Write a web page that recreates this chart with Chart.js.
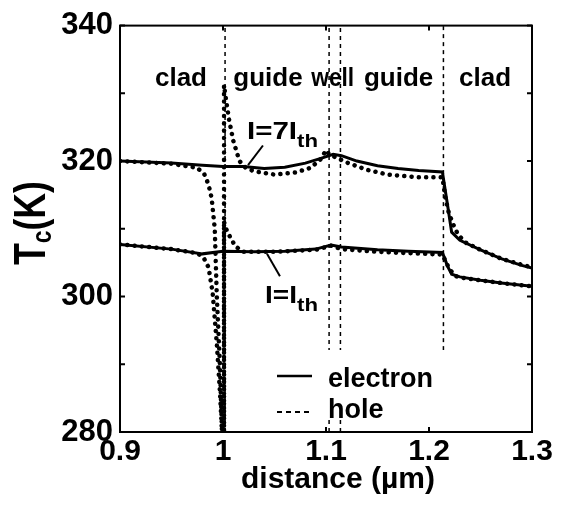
<!DOCTYPE html>
<html>
<head>
<meta charset="utf-8">
<script src="https://cdn.jsdelivr.net/npm/chart.js@4.4.1/dist/chart.umd.min.js"></script>
<style>
  html, body { margin: 0; padding: 0; background: #fff; }
  #wrap { width: 563px; height: 510px; }
</style>
</head>
<body>
<div id="wrap"><canvas id="c" width="563" height="510"></canvas></div>
<script>
// Carrier temperature profiles across the laser structure (distance in µm, temperature in K)
const elec7X = [0.9, 0.95, 0.98, 1.0, 1.02, 1.04, 1.06, 1.08, 1.095, 1.107, 1.115, 1.13, 1.15, 1.17, 1.19, 1.213, 1.218, 1.222, 1.23, 1.25, 1.27, 1.29, 1.3];
const elec7T = [320.0, 319.7, 319.4, 319.2, 319.2, 318.9, 319.1, 319.7, 320.4, 321.0, 320.8, 320.0, 319.3, 318.9, 318.6, 318.4, 313.5, 309.5, 308.3, 306.9, 305.6, 304.6, 304.2];

const hole7X = [0.9, 0.95, 0.975, 0.982, 0.986, 0.989, 0.992, 0.994, 0.997, 0.999, 1.001, 1.001, 1.003, 1.006, 1.01, 1.016, 1.022, 1.03, 1.05, 1.07, 1.085, 1.095, 1.1, 1.103, 1.11, 1.12, 1.14, 1.16, 1.19, 1.213, 1.216, 1.219, 1.223, 1.228, 1.235, 1.25, 1.27, 1.29, 1.3];
const hole7T = [320.0, 319.6, 319.0, 318.0, 316.5, 314.5, 310.0, 300.0, 290.0, 280.0, 280.0, 331.2, 329.0, 326.0, 323.0, 320.0, 319.0, 318.5, 318.0, 318.3, 319.0, 320.3, 321.6, 321.0, 320.5, 319.8, 318.7, 318.0, 317.6, 317.6, 314.5, 312.5, 310.8, 309.2, 308.0, 306.9, 305.6, 304.7, 304.3];

const elec1X = [0.9, 0.95, 0.98, 1.0, 1.03, 1.06, 1.09, 1.105, 1.115, 1.15, 1.18, 1.213, 1.218, 1.222, 1.23, 1.25, 1.27, 1.3];
const elec1T = [307.7, 307.0, 306.3, 306.7, 306.6, 306.7, 307.0, 307.6, 307.3, 306.9, 306.7, 306.5, 304.5, 303.3, 302.9, 302.4, 302.0, 301.5];

const hole1X = [0.9, 0.95, 0.975, 0.981, 0.986, 0.99, 0.994, 0.997, 0.999, 1.001, 1.001, 1.004, 1.012, 1.02, 1.05, 1.09, 1.105, 1.115, 1.15, 1.18, 1.213, 1.22, 1.226, 1.235, 1.25, 1.27, 1.3];
const hole1T = [307.7, 307.0, 306.4, 305.8, 304.3, 300.5, 293.0, 286.0, 280.0, 280.0, 311.0, 309.6, 307.4, 306.6, 306.6, 306.9, 307.5, 307.0, 306.6, 306.4, 306.2, 304.0, 303.0, 302.7, 302.4, 302.0, 301.5];

// Layer boundaries (µm) and where each boundary line ends at the bottom (K)
const interfaceX = [1.002, 1.103, 1.114, 1.214];
const interfaceBottom = [280, 280, 280, 285];

// Layer names and their centres
const regionNames = ['clad', 'guide', 'well', 'guide', 'clad'];
const regionCenters = [0.9592, 1.0437, 1.1065, 1.1705, 1.2544];
const regionLabelT = 331.1;

// Axis ticks
const xTickValues = [0.9, 1.0, 1.1, 1.2, 1.3];
const xTickLabels = ['0.9', '1', '1.1', '1.2', '1.3'];
const yTickValues = [280, 290, 300, 310, 320, 330, 340];
const yTickLabels = ['280', '', '300', '', '320', '', '340'];

// Current annotations: text anchor and pointer segment in data units
const currentLabels = [
  { main: 'I=7I', sub: 'th', x: 1.0233, t: 323.3, width: 50, pointer: [[1.0243, 319.4], [1.0388, 322.3]] },
  { main: 'I=I', sub: 'th', x: 1.0408, t: 299.0, width: 32, pointer: [[1.0427, 306.3], [1.0553, 303.0]] }
];

const FONT = '"Liberation Sans", Arial, Helvetica, sans-serif';

function pts(xs, ys) { return xs.map((x, i) => ({ x: x, y: ys[i] })); }

const dotted = { borderDash: [0.1, 7.2], borderCapStyle: 'round', borderWidth: 4.5 };

const datasets = [];
interfaceX.forEach((x, i) => {
  datasets.push({
    label: 'boundary ' + (i + 1),
    data: [{ x: x, y: interfaceBottom[i] }, { x: x, y: 340 }],
    borderColor: '#000', borderWidth: 1.5, borderDash: [4, 4], pointRadius: 0
  });
});
datasets.push(Object.assign({ label: 'hole 7Ith', data: pts(hole7X, hole7T), borderColor: '#000', pointRadius: 0 }, dotted));
datasets.push(Object.assign({ label: 'hole Ith', data: pts(hole1X, hole1T), borderColor: '#000', pointRadius: 0 }, dotted));
datasets.push({ label: 'electron 7Ith', data: pts(elec7X, elec7T), borderColor: '#000', borderWidth: 3, pointRadius: 0 });
datasets.push({ label: 'electron Ith', data: pts(elec1X, elec1T), borderColor: '#000', borderWidth: 3, pointRadius: 0 });

function fitText(ctx, text, x, y, size, targetWidth, align) {
  ctx.save();
  ctx.font = 'bold ' + size + 'px ' + FONT;
  const w = ctx.measureText(text).width;
  const s = targetWidth ? targetWidth / w : 1;
  ctx.translate(x, y);
  ctx.scale(s, 1);
  ctx.textAlign = align || 'left';
  ctx.textBaseline = 'alphabetic';
  ctx.fillText(text, 0, 0);
  ctx.restore();
  return w * s;
}

const decor = {
  id: 'decor',
  afterDatasetsDraw(chart) {
    const ctx = chart.ctx;
    const xs = chart.scales.x, ys = chart.scales.y;
    const a = chart.chartArea;
    ctx.save();
    ctx.fillStyle = '#000';
    ctx.strokeStyle = '#000';

    // layer names
    regionNames.forEach((name, i) => {
      const px = xs.getPixelForValue(regionCenters[i]);
      const py = ys.getPixelForValue(regionLabelT);
      fitText(ctx, name, px, py, 26, name === 'well' ? 43 : null, 'center');
    });

    // current annotations with pointers
    currentLabels.forEach(l => {
      ctx.lineWidth = 2;
      ctx.setLineDash([]);
      ctx.beginPath();
      ctx.moveTo(xs.getPixelForValue(l.pointer[0][0]), ys.getPixelForValue(l.pointer[0][1]));
      ctx.lineTo(xs.getPixelForValue(l.pointer[1][0]), ys.getPixelForValue(l.pointer[1][1]));
      ctx.stroke();
      const px = xs.getPixelForValue(l.x);
      const py = ys.getPixelForValue(l.t);
      const w = fitText(ctx, l.main, px, py, 23, l.width, 'left');
      fitText(ctx, l.sub, px + w, py + 8, 19, 21, 'left');
    });

    // legend
    ctx.fillStyle = '#fff';
    ctx.fillRect(270, 350, 210, 70);
    ctx.fillStyle = '#000';
    ctx.lineWidth = 2.5;
    ctx.beginPath(); ctx.moveTo(277, 376); ctx.lineTo(312, 376); ctx.stroke();
    ctx.lineWidth = 2;
    ctx.setLineDash([5, 4]);
    ctx.beginPath(); ctx.moveTo(277, 412); ctx.lineTo(313, 412); ctx.stroke();
    ctx.setLineDash([]);
    fitText(ctx, 'electron', 328, 387, 27, null, 'left');
    fitText(ctx, 'hole', 328, 418, 27, null, 'left');

    // inward tick marks on all four sides
    ctx.lineWidth = 2;
    xTickValues.forEach(v => {
      const px = xs.getPixelForValue(v);
      ctx.beginPath();
      ctx.moveTo(px, a.bottom); ctx.lineTo(px, a.bottom - 5);
      ctx.moveTo(px, a.top); ctx.lineTo(px, a.top + 5);
      ctx.stroke();
    });
    yTickValues.forEach(v => {
      const py = ys.getPixelForValue(v);
      ctx.beginPath();
      ctx.moveTo(a.left, py); ctx.lineTo(a.left + 5, py);
      ctx.moveTo(a.right, py); ctx.lineTo(a.right - 5, py);
      ctx.stroke();
    });

    // frame
    ctx.lineWidth = 2;
    ctx.strokeRect(a.left, a.top, a.right - a.left, a.bottom - a.top);

    // axis titles
    fitText(ctx, 'distance (µm)', 338, 488, 30, null, 'center');

    ctx.save();
    ctx.translate(45, 265);
    ctx.rotate(-Math.PI / 2);
    ctx.font = 'bold 44px ' + FONT;
    const wT = ctx.measureText('T').width;
    ctx.font = 'bold 28px ' + FONT;
    const wc = ctx.measureText('c').width;
    ctx.font = 'bold 44px ' + FONT;
    const wK = ctx.measureText('(K)').width;
    const total = wT + wc + wK;
    const s = 84 / total;
    ctx.scale(s, 1);
    ctx.textBaseline = 'alphabetic';
    ctx.fillText('T', 0, 0);
    ctx.font = 'bold 28px ' + FONT;
    ctx.fillText('c', wT, 6);
    ctx.font = 'bold 44px ' + FONT;
    ctx.fillText('(K)', wT + wc, 0);
    ctx.restore();

    ctx.restore();
  }
};

new Chart(document.getElementById('c'), {
  type: 'line',
  data: { datasets: datasets },
  options: {
    responsive: false,
    animation: false,
    layout: { padding: { top: 22, right: 31, left: 0, bottom: 0 } },
    plugins: { legend: { display: false }, tooltip: { enabled: false } },
    elements: { line: { tension: 0 }, point: { radius: 0 } },
    scales: {
      x: {
        type: 'linear', min: 0.9, max: 1.3,
        afterBuildTicks(axis) { axis.ticks = xTickValues.map(v => ({ value: v })); },
        afterFit(axis) { axis.height = 78; },
        ticks: {
          autoSkip: false, maxRotation: 0, padding: 2, color: '#000',
          font: { family: FONT, size: 30, weight: 'bold' },
          callback: (v, i) => xTickLabels[i]
        },
        grid: { display: false, drawTicks: false },
        border: { display: false }
      },
      y: {
        type: 'linear', min: 280, max: 340,
        afterBuildTicks(axis) { axis.ticks = yTickValues.map(v => ({ value: v })); },
        afterFit(axis) { axis.width = 120; },
        ticks: {
          autoSkip: false, padding: 7, color: '#000',
          font: { family: FONT, size: 31, weight: 'bold' },
          callback: (v, i) => yTickLabels[i]
        },
        grid: { display: false, drawTicks: false },
        border: { display: false }
      }
    }
  },
  plugins: [decor]
});
</script>
</body>
</html>
